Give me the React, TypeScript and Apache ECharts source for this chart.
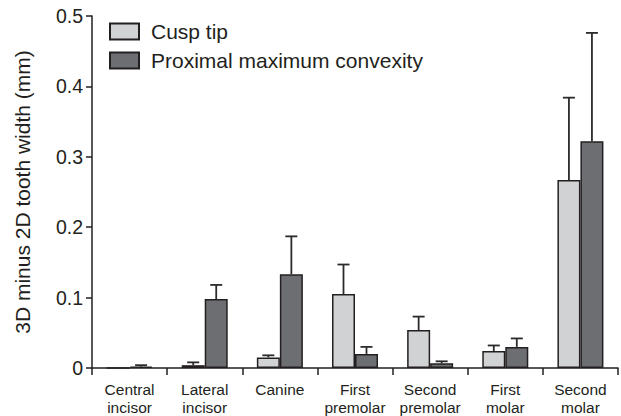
import React, { useEffect, useRef } from "react";
import * as echarts from "echarts";

const categories = [
  "Central\nincisor",
  "Lateral\nincisor",
  "Canine",
  "First\npremolar",
  "Second\npremolar",
  "First\nmolar",
  "Second\nmolar",
];
const cuspTip = [0, 0.004, 0.015, 0.105, 0.054, 0.024, 0.267];
const cuspTipErr = [0, 0.008, 0.018, 0.147, 0.073, 0.032, 0.384];
const proximal = [0.002, 0.098, 0.133, 0.02, 0.0067, 0.03, 0.322];
const proximalErr = [0.004, 0.118, 0.187, 0.03, 0.0095, 0.042, 0.476];
const yTicks = [0, 0.1, 0.2, 0.3, 0.4, 0.5];

const FONT = "Liberation Sans, Arial, Helvetica, sans-serif";
const BAR_W = 23;

function errorSeries(vals: number[], errs: number[], offset: number) {
  return {
    type: "custom",
    silent: true,
    z: 5,
    data: vals.map((v, i) => [i, v, errs[i]]),
    encode: { x: 0, y: [1, 2] },
    renderItem: (params: any, api: any) => {
      const i = api.value(0);
      if (!(api.value(2) > api.value(1))) return null;
      const base = api.coord([i, api.value(1)]);
      const top = api.coord([i, api.value(2)]);
      const x = base[0] + offset;
      const style = { stroke: "#2b2b2b", lineWidth: 1.8 };
      return {
        type: "group",
        children: [
          { type: "line", shape: { x1: x, y1: base[1], x2: x, y2: top[1] }, style },
          { type: "line", shape: { x1: x - 6, y1: top[1], x2: x + 6, y2: top[1] }, style },
        ],
      };
    },
  };
}

export default function App() {
  const ref = useRef<HTMLDivElement>(null);
  useEffect(() => {
    const chart = echarts.init(ref.current!, undefined, { renderer: "svg" });
    chart.setOption({
      animation: false,
      backgroundColor: "#fff",
      grid: { left: 92, right: 3, top: 16, bottom: 48, containLabel: false },
      legend: {
        orient: "vertical",
        left: 104,
        top: 16,
        icon: "rect",
        itemWidth: 29,
        itemHeight: 16,
        itemGap: 8,
        textStyle: {
          fontFamily: FONT,
          fontSize: 21,
          lineHeight: 16,
          color: "#231f20",
          padding: [0, 0, 0, 7],
        },
        data: ["Cusp tip", "Proximal maximum convexity"],
      },
      xAxis: {
        type: "category",
        data: categories,
        axisLine: { lineStyle: { color: "#231f20", width: 1.5 } },
        axisTick: { show: true, length: 7, alignWithLabel: false, lineStyle: { color: "#231f20", width: 1.5 } },
        axisLabel: {
          fontFamily: FONT,
          fontSize: 15.5,
          color: "#231f20",
          lineHeight: 18,
          margin: 12,
          interval: 0,
        },
      },
      yAxis: {
        type: "value",
        min: 0,
        max: 0.5,
        interval: 0.1,
        name: "3D minus 2D tooth width (mm)",
        nameLocation: "middle",
        nameGap: 59,
        nameTextStyle: { fontFamily: FONT, fontSize: 21, color: "#231f20" },
        splitLine: { show: false },
        axisLine: { show: true, lineStyle: { color: "#231f20", width: 1.5 } },
        axisTick: { show: true, length: 6, lineStyle: { color: "#231f20", width: 1.5 } },
        axisLabel: {
          fontFamily: FONT,
          fontSize: 19.5,
          color: "#231f20",
          margin: 9,
          formatter: (v: number) => {
            const r = Math.round(v * 10) / 10;
            return yTicks.includes(r) ? String(r) : "";
          },
        },
      },
      series: [
        {
          name: "Cusp tip",
          type: "bar",
          data: cuspTip,
          barWidth: BAR_W,
          barGap: "0%",
          itemStyle: { color: "#d1d2d4", borderColor: "#231f20", borderWidth: 1.5 },
        },
        {
          name: "Proximal maximum convexity",
          type: "bar",
          data: proximal,
          barWidth: BAR_W,
          barGap: "0%",
          itemStyle: { color: "#6d6e71", borderColor: "#231f20", borderWidth: 1.5 },
        },
        errorSeries(cuspTip, cuspTipErr, -BAR_W / 2),
        errorSeries(proximal, proximalErr, BAR_W / 2),
      ],
    });
    return () => chart.dispose();
  }, []);
  return <div ref={ref} style={{ width: 621, height: 416, position: "absolute", left: 0, top: 0 }} />;
}
